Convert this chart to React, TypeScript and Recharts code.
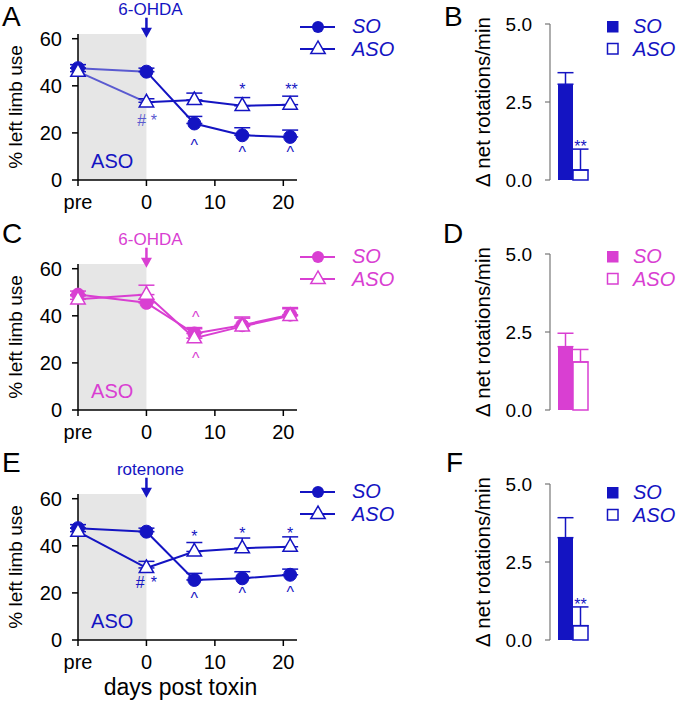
import React from 'react';
import {
  ComposedChart,
  Line,
  XAxis,
  YAxis,
  ErrorBar,
  ReferenceArea,
  ReferenceDot,
  BarChart,
  Bar,
  LabelList,
} from 'recharts';

const FONT = '"Liberation Sans", Arial, Helvetica, sans-serif';
const BLUE = '#1414c2';
const BLUE_LIGHT = '#5a5ad0';
const MAGENTA = '#d93fd2';

// shared axes
const days = [-10, 0, 7, 14, 21];
const dayTicks = [-10, 0, 10, 20];
const dayTickLabels = ['pre', '0', '10', '20'];
const limbTicks = [0, 20, 40, 60];
const rotTicks = [0, 2.5, 5];
const seriesNames = ['SO', 'ASO'];
const panelLetters = ['A', 'B', 'C', 'D', 'E', 'F'];

// Panel A (6-OHDA)
const aSO = [47.5, 46, 24, 19, 18.3];
const aSOErr = [1.5, 1.5, 3, 3.2, 2.9];
const aASO = [46, 33, 34, 31.5, 32];
const aASOErr = [1.5, 1.5, 2.9, 3.5, 3.6];

// Panel C (6-OHDA)
const cSO = [49, 45.5, 32.5, 36, 40.5];
const cSOErr = [1.5, 1.5, 2.5, 3, 2.5];
const cASO = [47, 49, 30.5, 35.5, 40];
const cASOErr = [1.5, 4, 4, 4, 3.5];

// Panel E (rotenone)
const eSO = [47.5, 46, 25.5, 26.2, 27.7];
const eSOErr = [1.5, 1.5, 2.8, 2.8, 2.4];
const eASO = [46, 30.6, 37.6, 39, 39.6];
const eASOErr = [1.5, 2.8, 3.8, 4.3, 4.2];

// Bars B, D, F: [SO, ASO]
const bVals = [3.07, 0.32];
const bErr = [0.37, 0.67];
const dVals = [2.03, 1.54];
const dErr = [0.43, 0.4];
const fVals = [3.28, 0.46];
const fErr = [0.64, 0.6];

type Note = { day: number; y: number; text: string; light?: boolean };

const aNotes: Note[] = [
  { day: -0.7, y: 22.8, text: '#', light: true },
  { day: 1.1, y: 22.8, text: '*', light: true },
  { day: 14, y: 36, text: '*' },
  { day: 21.2, y: 36, text: '**' },
  { day: 7, y: 12.3, text: '^' },
  { day: 14, y: 9.4, text: '^' },
  { day: 21, y: 9.4, text: '^' },
];
const cNotes: Note[] = [
  { day: 7.2, y: 37, text: '^' },
  { day: 7.2, y: 19.7, text: '^' },
];
const eNotes: Note[] = [
  { day: -0.9, y: 22, text: '#' },
  { day: 1.1, y: 22, text: '*' },
  { day: 7, y: 41.7, text: '*' },
  { day: 14, y: 43, text: '*' },
  { day: 21, y: 43, text: '*' },
  { day: 7, y: 15.3, text: '^' },
  { day: 14, y: 17.4, text: '^' },
  { day: 21, y: 17.9, text: '^' },
];

const triangleDot = (color: string) => (props: any) => {
  const { cx, cy, index } = props;
  if (cx == null || cy == null) return <g key={`t${index}`} />;
  return (
    <polygon
      key={`t${index}`}
      points={`${cx},${cy - 8} ${cx - 7.2},${cy + 4.6} ${cx + 7.2},${cy + 4.6}`}
      fill="#fff"
      stroke={color}
      strokeWidth={1.5}
    />
  );
};

type LineProps = {
  top: number;
  height: number;
  so: number[];
  soErr: number[];
  aso: number[];
  asoErr: number[];
  color: string;
  earlyColor: string;
  toxin: string;
  notes: Note[];
  xLabel?: string;
};

function LinePanel(p: LineProps) {
  const rows = days.map((d, i) => ({
    day: d,
    so: p.so[i],
    soErr: [0, p.soErr[i]],
    aso: p.aso[i],
    asoErr: [0, p.asoErr[i]],
    soEarly: i <= 1 ? p.so[i] : null,
    soLate: i >= 1 ? p.so[i] : null,
    asoEarly: i <= 1 ? p.aso[i] : null,
    asoLate: i >= 1 ? p.aso[i] : null,
  }));
  const tickStyle = { fill: '#000', fontSize: 20, fontFamily: FONT };
  return (
    <div style={{ position: 'absolute', left: 0, top: p.top }}>
      <ComposedChart
        width={300}
        height={p.height}
        data={rows}
        margin={{ top: 34, right: 3, left: 0, bottom: 0 }}
      >
        <ReferenceArea
          x1={-10}
          x2={0}
          y1={0}
          y2={62}
          fill="#e6e6e6"
          fillOpacity={1}
          stroke="none"
          label={{
            value: 'ASO',
            position: 'insideBottom',
            offset: 12,
            fill: p.color,
            fontSize: 20,
            fontFamily: FONT,
          }}
        />
        <XAxis
          type="number"
          dataKey="day"
          domain={[-10, 22]}
          ticks={dayTicks}
          tickFormatter={(v: number) => dayTickLabels[dayTicks.indexOf(v)]}
          height={p.height - 180}
          tick={tickStyle}
          tickSize={6}
          tickMargin={9}
          axisLine={{ stroke: '#000', strokeWidth: 1.5 }}
          tickLine={{ stroke: '#000', strokeWidth: 1.5 }}
          label={
            p.xLabel
              ? {
                  value: p.xLabel,
                  position: 'insideBottom',
                  offset: 10,
                  dx: -7,
                  fill: '#000',
                  fontSize: 23,
                  fontFamily: FONT,
                }
              : undefined
          }
        />
        <YAxis
          type="number"
          domain={[0, 62]}
          ticks={limbTicks}
          width={78}
          tick={tickStyle}
          tickSize={6}
          tickMargin={10}
          axisLine={{ stroke: '#000', strokeWidth: 1.5 }}
          tickLine={{ stroke: '#000', strokeWidth: 1.5 }}
          label={{
            value: '% left limb use',
            angle: -90,
            position: 'insideLeft',
            offset: 15,
            style: { textAnchor: 'middle' },
            fill: '#000',
            fontSize: 19,
            fontFamily: FONT,
          }}
        />
        <Line dataKey="soEarly" stroke={p.earlyColor} strokeWidth={2} dot={false} isAnimationActive={false} />
        <Line dataKey="asoEarly" stroke={p.earlyColor} strokeWidth={2} dot={false} isAnimationActive={false} />
        <Line dataKey="soLate" stroke={p.color} strokeWidth={2} dot={false} isAnimationActive={false} />
        <Line dataKey="asoLate" stroke={p.color} strokeWidth={2} dot={false} isAnimationActive={false} />
        <Line
          dataKey="so"
          stroke="none"
          dot={{ r: 6.5, fill: p.color, stroke: p.color, strokeWidth: 1 }}
          activeDot={false}
          isAnimationActive={false}
        >
          <ErrorBar dataKey="soErr" width={8} stroke={p.color} strokeWidth={1.5} direction="y" />
        </Line>
        <Line
          dataKey="aso"
          stroke="none"
          dot={triangleDot(p.color)}
          activeDot={false}
          isAnimationActive={false}
        >
          <ErrorBar dataKey="asoErr" width={8} stroke={p.color} strokeWidth={1.5} direction="y" />
        </Line>
        {p.notes.map((n, i) => (
          <ReferenceDot
            key={`n${i}`}
            x={n.day}
            y={n.y}
            r={1}
            ifOverflow="visible"
            shape={(s: any) => (
              <text
                x={s.cx}
                y={s.cy}
                textAnchor="middle"
                fill={n.light ? p.earlyColor : p.color}
                fontSize={16}
                fontFamily={FONT}
              >
                {n.text}
              </text>
            )}
          />
        ))}
        <ReferenceDot
          x={0}
          y={60}
          r={1}
          ifOverflow="visible"
          shape={(s: any) => (
            <g>
              <text
                x={s.cx + 4}
                y={s.cy - 24}
                textAnchor="middle"
                fill={p.color}
                fontSize={17}
                fontFamily={FONT}
              >
                {p.toxin}
              </text>
              <line x1={s.cx} x2={s.cx} y1={s.cy - 21} y2={s.cy - 9} stroke={p.color} strokeWidth={2.5} />
              <polygon
                points={`${s.cx - 5.5},${s.cy - 11} ${s.cx + 5.5},${s.cy - 11} ${s.cx},${s.cy - 1}`}
                fill={p.color}
              />
            </g>
          )}
        />
      </ComposedChart>
    </div>
  );
}

type BarProps = {
  top: number;
  vals: number[];
  errs: number[];
  sig: string;
  color: string;
};

function BarPanel(p: BarProps) {
  const rows = [
    {
      name: 'g',
      so: p.vals[0],
      soErr: [0, p.errs[0]],
      aso: p.vals[1],
      asoErr: [0, p.errs[1]],
      sig: p.sig,
    },
  ];
  const tickStyle = { fill: '#000', fontSize: 19, fontFamily: FONT };
  return (
    <div style={{ position: 'absolute', left: 430, top: p.top }}>
      <BarChart
        width={247}
        height={230}
        data={rows}
        margin={{ top: 24, right: 82, left: 0, bottom: 50 }}
        barGap={0}
      >
        <XAxis dataKey="name" hide />
        <YAxis
          type="number"
          domain={[0, 5]}
          ticks={rotTicks}
          width={120}
          tickFormatter={(v: number) => v.toFixed(1)}
          tick={tickStyle}
          tickSize={5}
          tickMargin={13}
          axisLine={{ stroke: '#777', strokeWidth: 1.2 }}
          tickLine={{ stroke: '#777', strokeWidth: 1.2 }}
          label={{
            value: '\u0394 net rotations/min',
            angle: -90,
            position: 'insideLeft',
            offset: 53,
            style: { textAnchor: 'middle' },
            fill: '#000',
            fontSize: 20.5,
            fontFamily: FONT,
          }}
        />
        <Bar dataKey="so" barSize={15} fill={p.color} isAnimationActive={false}>
          <ErrorBar dataKey="soErr" width={8} stroke={p.color} strokeWidth={1.5} direction="y" />
        </Bar>
        <Bar
          dataKey="aso"
          barSize={15}
          fill="#fff"
          stroke={p.color}
          strokeWidth={1.5}
          isAnimationActive={false}
        >
          <ErrorBar dataKey="asoErr" width={8} stroke={p.color} strokeWidth={1.5} direction="y" />
          {p.sig ? (
            <LabelList
              dataKey="sig"
              content={(l: any) => {
                const vb = l.viewBox || {};
                const x = l.x ?? vb.x;
                const y = l.y ?? vb.y;
                const w = l.width ?? vb.width;
                const h = l.height ?? vb.height;
                const idx = l.index ?? 0;
                const r = rows[idx] || rows[0];
                if (x == null || y == null) return null;
                const ppu = r.aso ? Math.abs(h) / r.aso : 0;
                const top = Math.min(y, y + h) - r.asoErr[1] * ppu;
                return (
                  <text
                    x={x + w / 2}
                    y={top + 3}
                    textAnchor="middle"
                    fill={p.color}
                    fontSize={16}
                    fontFamily={FONT}
                  >
                    {l.value}
                  </text>
                );
              }}
            />
          ) : null}
        </Bar>
      </BarChart>
    </div>
  );
}

function LineLegend({ top, color }: { top: number; color: string }) {
  return (
    <g transform={`translate(0, ${top})`}>
      <line x1={300} x2={335} y1={27} y2={27} stroke={color} strokeWidth={2} />
      <circle cx={318} cy={27} r={6} fill={color} />
      <line x1={300} x2={335} y1={49} y2={49} stroke={color} strokeWidth={2} />
      <polygon points={`318,41 310.8,53.6 325.2,53.6`} fill="#fff" stroke={color} strokeWidth={1.5} />
      <text x={352} y={33} fill={color} fontSize={20} fontStyle="italic" fontFamily={FONT}>
        {seriesNames[0]}
      </text>
      <text x={352} y={56} fill={color} fontSize={20} fontStyle="italic" fontFamily={FONT}>
        {seriesNames[1]}
      </text>
    </g>
  );
}

function BarLegend({ top, color }: { top: number; color: string }) {
  return (
    <g transform={`translate(0, ${top})`}>
      <rect x={607} y={21} width={11.5} height={11.5} fill={color} />
      <rect x={607.5} y={43.5} width={10.5} height={10.5} fill="#fff" stroke={color} strokeWidth={1.5} />
      <text x={633} y={33} fill={color} fontSize={20} fontStyle="italic" fontFamily={FONT}>
        {seriesNames[0]}
      </text>
      <text x={633} y={56} fill={color} fontSize={20} fontStyle="italic" fontFamily={FONT}>
        {seriesNames[1]}
      </text>
    </g>
  );
}

export default function App() {
  const letterStyle = { fontSize: 28, fontFamily: FONT, fill: '#000' };
  return (
    <div
      style={{
        position: 'absolute',
        left: 0,
        top: 0,
        width: 677,
        height: 705,
        background: '#fff',
        fontFamily: FONT,
        overflow: 'hidden',
      }}
    >
      <LinePanel
        top={0}
        height={230}
        so={aSO}
        soErr={aSOErr}
        aso={aASO}
        asoErr={aASOErr}
        color={BLUE}
        earlyColor={BLUE_LIGHT}
        toxin="6-OHDA"
        notes={aNotes}
      />
      <LinePanel
        top={230}
        height={230}
        so={cSO}
        soErr={cSOErr}
        aso={cASO}
        asoErr={cASOErr}
        color={MAGENTA}
        earlyColor={MAGENTA}
        toxin="6-OHDA"
        notes={cNotes}
      />
      <LinePanel
        top={460}
        height={245}
        so={eSO}
        soErr={eSOErr}
        aso={eASO}
        asoErr={eASOErr}
        color={BLUE}
        earlyColor={BLUE}
        toxin="rotenone"
        notes={eNotes}
        xLabel="days post toxin"
      />
      <BarPanel top={0} vals={bVals} errs={bErr} sig="**" color={BLUE} />
      <BarPanel top={230} vals={dVals} errs={dErr} sig="" color={MAGENTA} />
      <BarPanel top={460} vals={fVals} errs={fErr} sig="**" color={BLUE} />
      <svg
        width={677}
        height={705}
        style={{ position: 'absolute', left: 0, top: 0, pointerEvents: 'none' }}
      >
        <text x={2} y={26} {...letterStyle}>{panelLetters[0]}</text>
        <text x={444} y={26} {...letterStyle}>{panelLetters[1]}</text>
        <text x={2} y={243} {...letterStyle}>{panelLetters[2]}</text>
        <text x={443} y={243} {...letterStyle}>{panelLetters[3]}</text>
        <text x={2} y={472} {...letterStyle}>{panelLetters[4]}</text>
        <text x={446} y={472} {...letterStyle}>{panelLetters[5]}</text>
        <LineLegend top={0} color={BLUE} />
        <LineLegend top={230} color={MAGENTA} />
        <LineLegend top={465} color={BLUE} />
        <BarLegend top={0} color={BLUE} />
        <BarLegend top={230} color={MAGENTA} />
        <BarLegend top={466} color={BLUE} />
      </svg>
    </div>
  );
}
